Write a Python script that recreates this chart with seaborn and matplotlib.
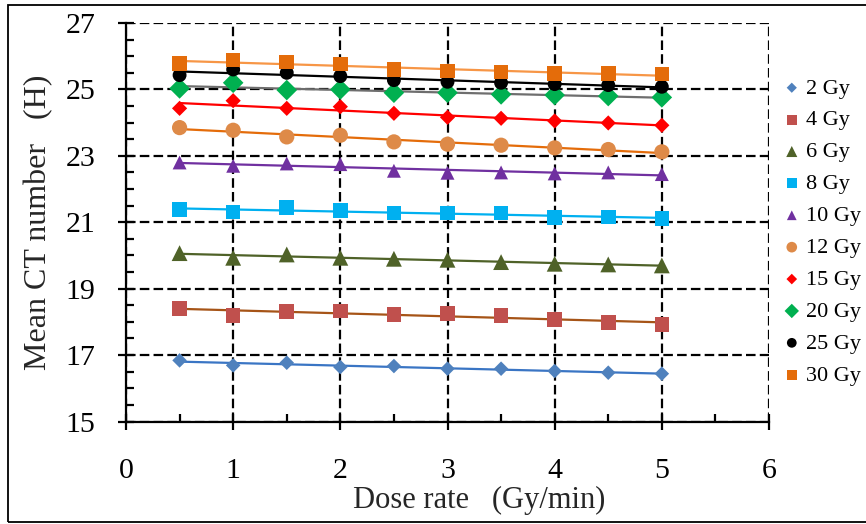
import matplotlib
matplotlib.use("Agg")
import matplotlib.pyplot as plt
from matplotlib.patches import Rectangle
from matplotlib.ticker import MultipleLocator
import numpy as np
import pandas as pd
import seaborn as sns

# ---------------- data ----------------
dose_rate = [0.5, 1.0, 1.5, 2.0, 2.5, 3.0, 3.5, 4.0, 4.5, 5.0]
series_labels = ["2 Gy", "4 Gy", "6 Gy", "8 Gy", "10 Gy",
                 "12 Gy", "15 Gy", "20 Gy", "25 Gy", "30 Gy"]
gy2 = [16.84, 16.69, 16.77, 16.64, 16.67, 16.59, 16.59, 16.52, 16.47, 16.44]
gy4 = [18.40, 18.20, 18.32, 18.33, 18.22, 18.25, 18.20, 18.07, 17.98, 17.92]
gy6 = [20.07, 19.93, 20.03, 19.93, 19.90, 19.87, 19.80, 19.75, 19.73, 19.70]
gy8 = [21.38, 21.31, 21.44, 21.36, 21.28, 21.28, 21.28, 21.14, 21.16, 21.11]
gy10 = [22.80, 22.70, 22.77, 22.75, 22.55, 22.49, 22.50, 22.47, 22.50, 22.45]
gy12 = [23.85, 23.77, 23.57, 23.62, 23.42, 23.35, 23.32, 23.24, 23.19, 23.12]
gy15 = [24.43, 24.66, 24.43, 24.48, 24.28, 24.16, 24.13, 24.05, 23.99, 23.92]
gy20 = [25.03, 25.20, 24.98, 25.00, 24.90, 24.90, 24.85, 24.83, 24.80, 24.76]
gy25 = [25.43, 25.60, 25.50, 25.40, 25.28, 25.23, 25.20, 25.16, 25.13, 25.08]
gy30 = [25.78, 25.88, 25.83, 25.76, 25.60, 25.55, 25.53, 25.48, 25.48, 25.46]
series_values = [gy2, gy4, gy6, gy8, gy10, gy12, gy15, gy20, gy25, gy30]

x_ticks = [0, 1, 2, 3, 4, 5, 6]
y_ticks = [15, 17, 19, 21, 23, 25, 27]

# ---------------- styles ----------------
marker_colors = ["#4F81BD", "#C0504D", "#4F6228", "#00B0F0", "#7030A0",
                 "#DE8A48", "#FF0000", "#00B050", "#000000", "#E46C0A"]
line_colors = ["#3A75C4", "#A65417", "#4F6228", "#00B0F0", "#7030A0",
               "#E46C0A", "#FF0000", "#6E6E6E", "#000000", "#F79646"]
markers = ["D", "s", "^", "s", "^", "o", "D", "D", "o", "s"]
sizes = [55, 110, 130, 110, 100, 120, 60, 110, 100, 110]

sns.set_theme(style="white")
plt.rcParams["font.family"] = ["Liberation Serif", "DejaVu Serif"]

fig = plt.figure(figsize=(8.66, 5.24), dpi=100)
ax = fig.add_axes([126 / 866, 1 - 421.5 / 524, (769 - 126) / 866, (421.5 - 23) / 524])

for lab, vals, mc, lc, mk, sz in zip(series_labels, series_values, marker_colors,
                                      line_colors, markers, sizes):
    df = pd.DataFrame({"x": dose_rate, "y": vals})
    sns.regplot(data=df, x="x", y="y", ax=ax, scatter=False, ci=None,
                truncate=True, line_kws=dict(color=lc, lw=1.6, zorder=3))
    sns.scatterplot(data=df, x="x", y="y", ax=ax, marker=mk, color=mc, s=sz,
                    edgecolor="none", linewidth=0, label=lab, zorder=4)

ax.set_xlim(0, 6)
ax.set_ylim(15, 27)
ax.set_xticks(x_ticks)
ax.set_yticks(y_ticks)
ax.xaxis.set_minor_locator(MultipleLocator(0.5))
ax.yaxis.set_minor_locator(MultipleLocator(0.5))

ax.grid(True, which="major", color="black", linestyle=(0, (4.3, 1.9)), lw=1.6)
ax.set_axisbelow(True)
for s in ["top", "right"]:
    ax.spines[s].set_visible(False)
for s in ["left", "bottom"]:
    ax.spines[s].set_color("black")
    ax.spines[s].set_linewidth(1.6)
    ax.spines[s].set_zorder(5)

ax.tick_params(which="both", left=True, bottom=True, right=False, top=False)
ax.tick_params(which="major", direction="inout", length=12, width=1.6,
               color="black", labelcolor="black", labelsize=21.5)
ax.tick_params(axis="y", which="major", pad=16)
ax.tick_params(axis="x", which="major", pad=20)
ax.tick_params(which="minor", direction="in", length=5.5, width=1.6,
               color="black")

ax.set_xlabel("Dose rate   (Gy/min)", fontsize=22)
ax.xaxis.set_label_coords((479 - 126) / 643, -0.162)
ax.set_ylabel("Mean CT number   (H)", fontsize=23, labelpad=9)

leg = ax.legend(loc="upper left", bbox_to_anchor=(784 / 866, 1 - 78 / 524),
                bbox_transform=fig.transFigure, frameon=False, fontsize=16,
                handlelength=0.7, handletextpad=0.3, labelspacing=0.51,
                borderpad=0, borderaxespad=0, markerscale=0.7)
for t in leg.get_texts():
    t.set_color("black")

fig.patches.append(Rectangle((8 / 866, 2 / 524), 870 / 866, 517 / 524,
                             transform=fig.transFigure, fill=False,
                             edgecolor="black", lw=1.3))

fig.savefig("out.png", dpi=100)
